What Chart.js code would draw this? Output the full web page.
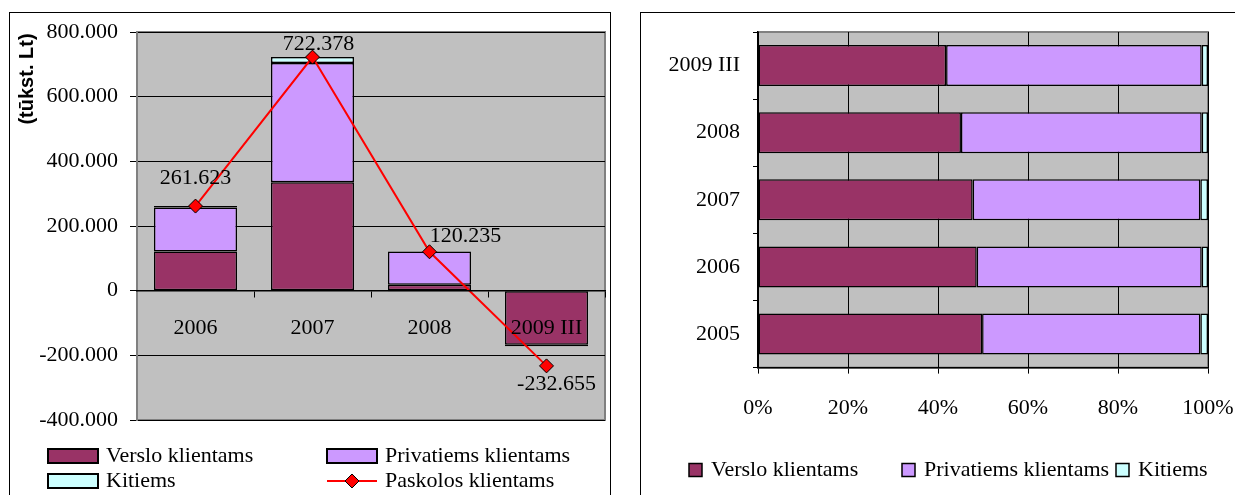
<!DOCTYPE html>
<html lang="lt">
<head>
<meta charset="utf-8">
<title>Paskolos klientams</title>
<script src="https://cdn.jsdelivr.net/npm/chart.js@4.4.1/dist/chart.umd.min.js"></script>
<style>
  html, body { margin: 0; padding: 0; background: #fff; }
  body { position: relative; width: 1235px; height: 495px; overflow: hidden; }
  .frame { position: absolute; border: 1px solid #000; box-sizing: border-box; }
  #leftFrame { left: 9px; top: 12px; width: 602px; height: 500px; }
  #rightFrame { left: 640px; top: 12px; width: 610px; height: 500px; }
  .box { position: absolute; top: 0; height: 495px; }
  #leftBox { left: 0; width: 620px; }
  #rightBox { left: 620px; width: 615px; }
</style>
</head>
<body>
<div class="frame" id="leftFrame"></div>
<div class="frame" id="rightFrame"></div>
<div class="box" id="leftBox"><canvas id="flowChart"></canvas></div>
<div class="box" id="rightBox"><canvas id="shareChart"></canvas></div>
<script>
// yearly change, tūkst. Lt
const years = ["2006", "2007", "2008", "2009 III"];
const verslo = [121000, 335000, 18000, -167000];
const privatiems = [136000, 369000, 103000, 2000];
const kitiems = [4600, 18400, -2500, -5000];
const paskolos = [261623, 722378, 120235, -232655];

// portfolio structure, %
const shareYears = ["2005", "2006", "2007", "2008", "2009 III"];
const versloShare = [49.8, 48.6, 47.7, 45.1, 41.8];
const privatiemsShare = [48.5, 50.0, 50.6, 53.5, 56.8];
const kitiemsShare = [1.7, 1.4, 1.7, 1.4, 1.4];

const serif = { family: "'Liberation Serif', 'Times New Roman', serif", size: 22 };
const COLORS = { verslo: "#993366", privatiems: "#CC99FF", kitiems: "#CCFFFF", line: "#FF0000" };

// 1234567 -> "1.234.567"
function fmt(v) {
    const s = String(Math.abs(Math.round(v))).replace(/\B(?=(\d{3})+(?!\d))/g, ".");
    return (v < 0 ? "-" : "") + s;
}

// grey plot background + frame, under the scales
const plotFrame = {
    id: "plotFrame",
    beforeDraw(chart) {
        const { ctx, chartArea: a } = chart;
        ctx.save();
        ctx.fillStyle = "#C0C0C0";
        ctx.fillRect(a.left, a.top, a.right - a.left, a.bottom - a.top);
        ctx.strokeStyle = "#808080";
        ctx.lineWidth = 2;
        ctx.strokeRect(a.left, a.top, a.right - a.left, a.bottom - a.top);
        ctx.restore();
    }
};

// legend with fixed item spots
const fixedLegend = {
    id: "fixedLegend",
    afterDraw(chart, args, opts) {
        const ctx = chart.ctx;
        const w = opts.boxWidth, h = opts.boxHeight;
        ctx.save();
        ctx.font = `${serif.size}px ${serif.family}`;
        ctx.textBaseline = "middle";
        ctx.textAlign = "left";
        chart.data.datasets.forEach((ds, i) => {
            const [x, y] = opts.spots[i];
            if (ds.type === "line") {
                ctx.strokeStyle = ds.borderColor;
                ctx.lineWidth = 2;
                ctx.beginPath();
                ctx.moveTo(x, y);
                ctx.lineTo(x + w, y);
                ctx.stroke();
                const cx = x + w / 2, r = 7;
                ctx.beginPath();
                ctx.moveTo(cx, y - r);
                ctx.lineTo(cx + r, y);
                ctx.lineTo(cx, y + r);
                ctx.lineTo(cx - r, y);
                ctx.closePath();
                ctx.fillStyle = ds.pointBackgroundColor;
                ctx.fill();
                ctx.lineWidth = 1;
                ctx.strokeStyle = "#000";
                ctx.stroke();
            } else {
                ctx.fillStyle = ds.backgroundColor;
                ctx.fillRect(x, y - h / 2, w, h);
                ctx.lineWidth = opts.border;
                ctx.strokeStyle = "#000";
                ctx.strokeRect(x, y - h / 2, w, h);
            }
            ctx.fillStyle = "#000";
            ctx.fillText(ds.label, x + w + opts.gap, y);
        });
        ctx.restore();
    }
};

// values next to the line markers + rotated unit title
const labelShift = [[0, -28], [6, -13], [36, -16], [10, 18]];
const flowText = {
    id: "flowText",
    afterDatasetsDraw(chart) {
        const ctx = chart.ctx;
        const meta = chart.getDatasetMeta(3);
        ctx.save();
        ctx.font = `${serif.size}px ${serif.family}`;
        ctx.fillStyle = "#000";
        ctx.textAlign = "center";
        ctx.textBaseline = "middle";
        meta.data.forEach((pt, i) => {
            const [dx, dy] = labelShift[i];
            ctx.fillText(fmt(paskolos[i]), pt.x + dx, pt.y + dy);
        });
        ctx.translate(27, 79);
        ctx.rotate(-Math.PI / 2);
        ctx.font = "bold 20px 'Liberation Sans', Arial, sans-serif";
        ctx.fillText("(tūkst. Lt)", 0, 0);
        ctx.restore();
    }
};

const barStyle = { borderColor: "#000", borderWidth: 1.5, borderSkipped: false };

new Chart(document.getElementById("flowChart"), {
    type: "bar",
    data: {
        labels: years,
        datasets: [
            { label: "Verslo klientams", data: verslo, backgroundColor: COLORS.verslo, ...barStyle },
            { label: "Privatiems klientams", data: privatiems, backgroundColor: COLORS.privatiems, ...barStyle },
            { label: "Kitiems", data: kitiems, backgroundColor: COLORS.kitiems, ...barStyle },
            {
                type: "line",
                label: "Paskolos klientams",
                data: paskolos,
                borderColor: COLORS.line,
                borderWidth: 2,
                tension: 0,
                pointStyle: "rectRot",
                pointRadius: 7,
                pointBackgroundColor: COLORS.line,
                pointBorderColor: "#000",
                pointBorderWidth: 1,
                order: -1
            }
        ]
    },
    options: {
        responsive: true,
        maintainAspectRatio: false,
        animation: false,
        layout: { padding: { top: 32, right: 15, bottom: 75, left: 0 } },
        datasets: { bar: { categoryPercentage: 1, barPercentage: 0.71 } },
        plugins: {
            legend: { display: false },
            tooltip: { enabled: false },
            fixedLegend: { spots: [[48, 456], [327, 456], [48, 481], [327, 481]], boxWidth: 50, boxHeight: 14, gap: 8, border: 2 }
        },
        scales: {
            x: {
                stacked: true,
                position: { y: 0 },
                offset: true,
                grid: { offset: true, drawOnChartArea: false, drawTicks: true, tickLength: 6, color: "#000" },
                border: { display: true, color: "#000", width: 1.5, z: 1 },
                // category names sit on top of the bars
                ticks: { color: "#000", font: serif, padding: 18, maxRotation: 0, autoSkip: false, z: 1 }
            },
            y: {
                stacked: true,
                min: -400000,
                max: 800000,
                ticks: { stepSize: 200000, color: "#000", font: serif, padding: 12, callback: v => fmt(v) },
                grid: { color: "#000", tickLength: 7 },
                border: { color: "#808080", width: 2 },
                afterFit: s => { s.width = 137; }
            }
        }
    },
    plugins: [plotFrame, flowText, fixedLegend]
});

new Chart(document.getElementById("shareChart"), {
    type: "bar",
    data: {
        labels: shareYears,
        datasets: [
            { label: "Verslo klientams", data: versloShare, backgroundColor: COLORS.verslo, ...barStyle },
            { label: "Privatiems klientams", data: privatiemsShare, backgroundColor: COLORS.privatiems, ...barStyle },
            { label: "Kitiems", data: kitiemsShare, backgroundColor: COLORS.kitiems, ...barStyle }
        ]
    },
    options: {
        indexAxis: "y",
        responsive: true,
        maintainAspectRatio: false,
        animation: false,
        layout: { padding: { top: 32, right: 0, bottom: 53, left: 0 } },
        datasets: { bar: { categoryPercentage: 1, barPercentage: 0.61 } },
        plugins: {
            legend: { display: false },
            tooltip: { enabled: false },
            fixedLegend: { spots: [[69, 470], [282, 470], [496, 470]], boxWidth: 13, boxHeight: 13, gap: 9, border: 1.5 }
        },
        scales: {
            x: {
                stacked: true,
                min: 0,
                max: 100,
                ticks: { stepSize: 20, color: "#000", font: serif, padding: 21, callback: v => v + "%" },
                grid: { color: "#000", tickLength: 6 },
                border: { color: "#000", width: 1.5 },
                // only half of the "100%" label needs room on the right
                afterFit: s => { s.paddingRight = 27; }
            },
            y: {
                stacked: true,
                reverse: true,
                grid: { offset: true, drawOnChartArea: false, tickLength: 5, color: "#000" },
                border: { color: "#000", width: 1.5 },
                ticks: { color: "#000", font: serif, padding: 13 },
                afterFit: s => { s.width = 138; }
            }
        }
    },
    plugins: [plotFrame, fixedLegend]
});
</script>
</body>
</html>
